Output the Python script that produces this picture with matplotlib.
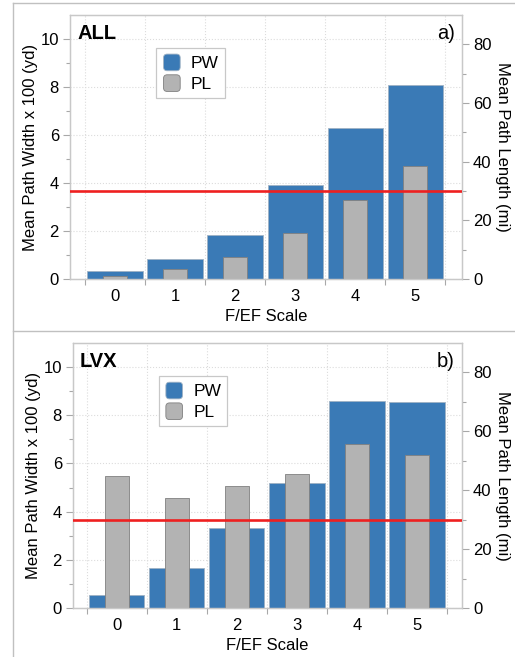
import matplotlib
matplotlib.use('Agg')
import matplotlib.pyplot as plt
from matplotlib.patches import Patch, FancyBboxPatch
from matplotlib.legend_handler import HandlerPatch
from matplotlib.lines import Line2D
import numpy as np

plt.rcParams['font.family'] = ['Liberation Sans', 'DejaVu Sans']

# F/EF rating categories
scale = [0, 1, 2, 3, 4, 5]

# Mean path width (x 100 yd) and mean path length (mi)
all_pw = [0.35, 0.85, 1.85, 3.92, 6.31, 8.08]
all_pl = [1.0, 3.4, 7.6, 15.6, 26.8, 38.4]
lvx_pw = [0.53, 1.65, 3.31, 5.19, 8.61, 8.56]
lvx_pl = [44.9, 37.4, 41.3, 45.5, 55.6, 52.0]

ref_length = 30  # mi

PW_COLOR = '#3a7ab6'
PL_COLOR = '#b3b3b3'
SPINE = '#c8c8c8'
TICK = '#a8a8a8'


class RoundSquareHandler(HandlerPatch):
    def create_artists(self, legend, orig_handle, xdescent, ydescent,
                       width, height, fontsize, trans):
        size = min(width, height)
        x0 = -xdescent + (width - size) / 2
        y0 = -ydescent + (height - size) / 2
        p = FancyBboxPatch((x0, y0), size, size,
                           boxstyle='round,pad=0,rounding_size=%f' % (size * 0.22),
                           facecolor=orig_handle.get_facecolor(),
                           edgecolor=orig_handle.get_edgecolor(), linewidth=0.6)
        p.set_transform(trans)
        return [p]


def draw_panel(fig, rect, pw, pl, name, tag, xlim):
    ax = fig.add_axes(rect)
    ax2 = ax.twinx()
    x = np.array(scale)

    ax.bar(x, pw, width=0.92, color=PW_COLOR, edgecolor='#9fb2c4',
           linewidth=0.6, zorder=2)
    ax2.bar(x, pl, width=0.39, color=PL_COLOR, edgecolor='#808080',
            linewidth=0.6, zorder=2)
    ax2.axhline(ref_length, color='#ee2020', linewidth=1.9, zorder=3)

    ax.set_xlim(*xlim)
    ax.set_ylim(0, 11)
    ax2.set_ylim(0, 90)

    # boundary ticks below the axis, labels centred on the bars
    ax.set_xticks(np.arange(-0.5, 6, 1))
    ax.set_xticklabels([])
    ax.set_xticks(x, minor=True)
    ax.set_xticklabels([str(v) for v in scale], minor=True, fontsize=12)
    ax.tick_params(axis='x', which='major', direction='out', length=4,
                   color=TICK, width=0.8)
    ax.tick_params(axis='x', which='minor', length=0, pad=7)

    ax.set_yticks(np.arange(0, 11, 2))
    ax.set_yticks(np.arange(1, 11, 2), minor=True)
    ax.tick_params(axis='y', which='major', direction='out', length=5,
                   color=TICK, width=0.8, labelsize=12, pad=3)
    ax.tick_params(axis='y', which='minor', direction='out', length=3,
                   color=TICK, width=0.8)

    ax2.set_yticks(np.arange(0, 81, 20))
    ax2.set_yticks(np.arange(10, 90, 20), minor=True)
    ax2.tick_params(axis='y', which='major', direction='out', length=5,
                    color=TICK, width=0.8, labelsize=12, pad=3)
    ax2.tick_params(axis='y', which='minor', direction='out', length=3,
                    color=TICK, width=0.8)

    ax.grid(True, which='major', linestyle=':', color='#dcdcdc', linewidth=0.8)
    ax.set_axisbelow(True)
    for a in (ax, ax2):
        for s in a.spines.values():
            s.set_color(SPINE)
            s.set_linewidth(0.9)

    ax.set_xlabel('F/EF Scale', fontsize=12, labelpad=4)
    ax.set_ylabel('Mean Path Width x 100 (yd)', fontsize=12, labelpad=2)
    ax2.set_ylabel('Mean Path Length (mi)', fontsize=12, rotation=270,
                   labelpad=13)

    ax.text(0.018, 0.965, name, transform=ax.transAxes, fontsize=14.5,
            fontweight='bold', ha='left', va='top', zorder=5)
    ax2.text(0.982, 0.965, tag, transform=ax.transAxes, fontsize=14.5,
             ha='right', va='top', zorder=5)

    handles = [Patch(facecolor=PW_COLOR, edgecolor='#9fb2c4', label='PW'),
               Patch(facecolor=PL_COLOR, edgecolor='#808080', label='PL')]
    leg = ax2.legend(handles=handles, loc='upper left',
                     bbox_to_anchor=(0.22, 0.875), fontsize=12.5,
                     handlelength=1.1, handleheight=1.1, handletextpad=0.55,
                     labelspacing=0.2, borderpad=0.35, borderaxespad=0,
                     fancybox=False, framealpha=1, edgecolor='#c8c8c8',
                     handler_map={Patch: RoundSquareHandler()})
    leg.get_frame().set_linewidth(0.9)
    return ax


W, H = 515, 657
fig = plt.figure(figsize=(W / 100, H / 100), dpi=100)


def frac(left, top, right, bottom):
    return [left / W, 1 - bottom / H, (right - left) / W, (bottom - top) / H]


draw_panel(fig, frac(70, 15, 462, 279), all_pw, all_pl, 'ALL', 'a)', (-0.75, 5.78))
draw_panel(fig, frac(73, 343, 462, 608), lvx_pw, lvx_pl, 'LVX', 'b)', (-0.73, 5.75))

# panel frames
for y in (3, 331):
    fig.add_artist(Line2D([13 / W, 1], [1 - y / H, 1 - y / H],
                          transform=fig.transFigure, color='#c0c0c0', linewidth=1))
fig.add_artist(Line2D([13 / W, 13 / W], [1 - 3 / H, 0],
                      transform=fig.transFigure, color='#c0c0c0', linewidth=1))

fig.savefig('out.png', dpi=100)
